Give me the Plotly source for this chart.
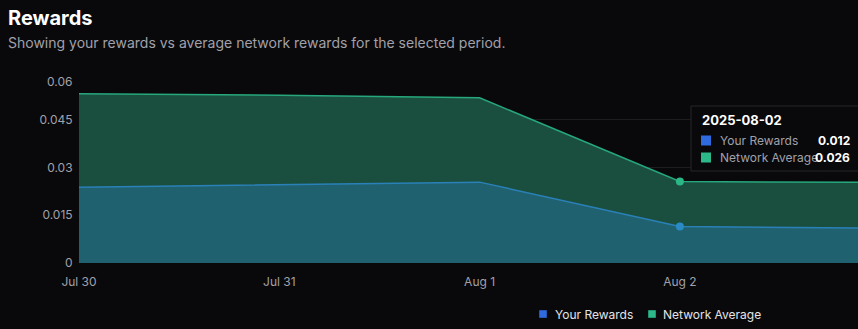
import plotly.graph_objects as go
import pandas as pd

# ---- data ----
dates = ["2025-07-30", "2025-07-31", "2025-08-01", "2025-08-02", "2025-08-03"]
your_rewards = [0.0238, 0.0246, 0.0254, 0.0115, 0.0109]
network_avg = [0.0532, 0.0527, 0.0519, 0.0256, 0.0253]
x_tick_vals = ["2025-07-30", "2025-07-31", "2025-08-01", "2025-08-02"]
x_tick_text = ["Jul 30", "Jul 31", "Aug 1", "Aug 2"]
y_tick_vals = [0, 0.015, 0.03, 0.045, 0.06]
y_tick_text = ["0", "0.015", "0.03", "0.045", ""]
hover_idx = 3
tooltip_title = "2025-08-02"
tooltip_vals = ["0.012", "0.026"]
series_names = ["Your Rewards", "Network Average"]

W, H = 858, 329
L, T, B = 79, 72, 66
PW = W - L
PH = H - T - B

BG = "#09090b"
GRID = "#1d1d21"
TICK = "#a1a1aa"
BLUE_LEG = "#2f6bdf"
GREEN_LEG = "#2db88a"

def px_x(px):
    return (px - L) / PW

def px_y(py):
    return (H - B - py) / PH

fig = go.Figure()
fig.add_trace(go.Scatter(
    x=dates, y=network_avg, mode="lines", fill="tozeroy",
    line=dict(color="#27a77c", width=1.5), fillcolor="#1a4f3f",
    showlegend=False, hoverinfo="skip"))
fig.add_trace(go.Scatter(
    x=dates, y=your_rewards, mode="lines", fill="tozeroy",
    line=dict(color="#2a80b8", width=1.5), fillcolor="#20616f",
    showlegend=False, hoverinfo="skip"))
# active dots
fig.add_trace(go.Scatter(
    x=[dates[hover_idx]], y=[network_avg[hover_idx]], mode="markers",
    marker=dict(color="#2bb887", size=8), showlegend=False, hoverinfo="skip"))
fig.add_trace(go.Scatter(
    x=[dates[hover_idx]], y=[your_rewards[hover_idx]], mode="markers",
    marker=dict(color="#2a8ac4", size=8), showlegend=False, hoverinfo="skip"))

x0 = pd.Timestamp(dates[0])
day_px = 200.3
x_end = x0 + pd.Timedelta(days=PW / day_px)

annotations = [
    dict(text="<b>Rewards</b>", x=px_x(6), y=px_y(18), xref="paper", yref="paper",
         xanchor="left", yanchor="middle", showarrow=False,
         font=dict(size=20, color="#ffffff", family="Inter")),
    dict(text="Showing your rewards vs average network rewards for the selected period.",
         x=px_x(6), y=px_y(43), xref="paper", yref="paper",
         xanchor="left", yanchor="middle", showarrow=False,
         font=dict(size=14, color=TICK, family="Inter")),
    dict(text="0.06", x=0, xref="paper", y=0.06, yref="y", xshift=-5, yshift=-9,
         xanchor="right", yanchor="middle", showarrow=False,
         font=dict(size=12, color=TICK, family="Inter")),
    # tooltip
    dict(text="<b>" + tooltip_title + "</b>", x=px_x(700), y=px_y(120), xref="paper", yref="paper",
         xanchor="left", yanchor="middle", showarrow=False,
         font=dict(size=13, color="#ffffff", family="Inter")),
]
shapes = [
    dict(type="path", xref="paper", yref="paper",
         path="M {a},{b} L {c},{b} L {c},{d} L {a},{d} Z".format(
             a=px_x(691), b=px_y(106), c=px_x(870), d=px_y(171)),
         line=dict(color="#27272a", width=1), fillcolor=BG, layer="above"),
]
row_y = [140.5, 157.5]
row_cols = [BLUE_LEG, GREEN_LEG]
for i in range(2):
    shapes.append(dict(type="rect", xref="paper", yref="paper",
                       x0=px_x(701), x1=px_x(711), y0=px_y(row_y[i] - 5), y1=px_y(row_y[i] + 5),
                       fillcolor=row_cols[i], line=dict(width=0), layer="above"))
    annotations.append(dict(text=series_names[i], x=px_x(719), y=px_y(row_y[i]),
                            xref="paper", yref="paper", xanchor="left", yanchor="middle",
                            showarrow=False, borderpad=0,
                            font=dict(size=12, color=TICK, family="Inter")))
    annotations.append(dict(text="<b>" + tooltip_vals[i] + "</b>", x=px_x(851), y=px_y(row_y[i]),
                            xref="paper", yref="paper", xanchor="right", yanchor="middle",
                            showarrow=False, borderpad=0,
                            font=dict(size=12, color="#ffffff", family="Inter")))

# custom legend
leg_sq = [543, 652]
leg_tx = [552.5, 660.5]
for i in range(2):
    shapes.append(dict(type="rect", xref="paper", yref="paper",
                       x0=px_x(leg_sq[i] - 3.8), x1=px_x(leg_sq[i] + 3.8),
                       y0=px_y(314 - 3.8), y1=px_y(314 + 3.8),
                       fillcolor=row_cols[i], line=dict(width=0)))
    annotations.append(dict(text=series_names[i], x=px_x(leg_tx[i]), y=px_y(314),
                            xref="paper", yref="paper", xanchor="left", yanchor="middle",
                            showarrow=False, font=dict(size=12, color="#e4e4e7", family="Inter")))

fig.update_layout(
    width=W, height=H,
    margin=dict(l=L, r=0, t=T, b=B, pad=0),
    paper_bgcolor=BG, plot_bgcolor=BG,
    font=dict(family="Inter", color=TICK, size=12),
    xaxis=dict(type="date", range=[x0, x_end], tickvals=x_tick_vals, ticktext=x_tick_text,
               showgrid=False, zeroline=False, showline=False,
               ticks="outside", ticklen=8, tickcolor="rgba(0,0,0,0)",
               tickfont=dict(size=12, color=TICK)),
    yaxis=dict(range=[0, 0.06], tickvals=y_tick_vals, ticktext=y_tick_text,
               showgrid=True, gridcolor=GRID, gridwidth=1, zeroline=False, showline=False,
               ticks="outside", ticklen=3, tickcolor="rgba(0,0,0,0)",
               tickfont=dict(size=12, color=TICK)),
    annotations=annotations,
    shapes=shapes,
    showlegend=False,
    hovermode=False,
)

fig.write_html("out.html")
